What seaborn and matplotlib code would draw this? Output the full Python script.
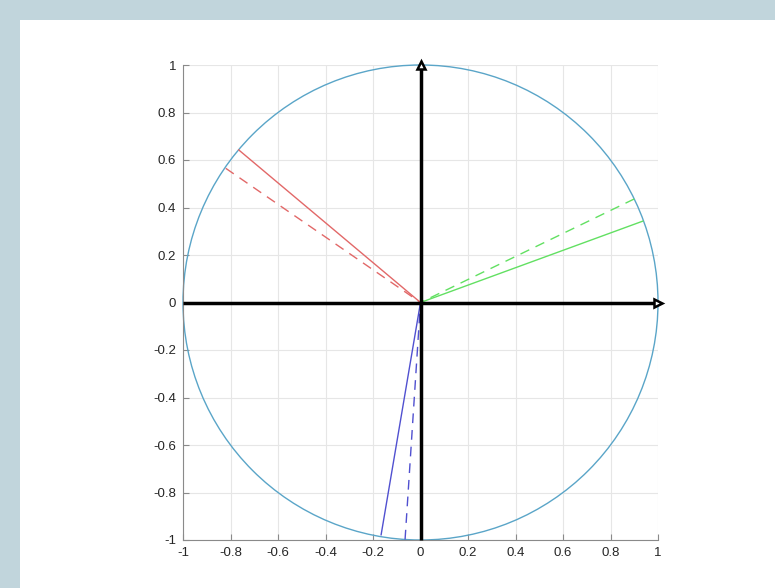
import numpy as np
import pandas as pd
import matplotlib
matplotlib.use("Agg")
import matplotlib.pyplot as plt
from matplotlib.patches import Circle, Rectangle
import seaborn as sns

# ---- data ----
vector_names = ["red_solid", "red_dashed", "green_solid", "green_dashed", "blue_solid", "blue_dashed"]
vector_x = [-0.766, -0.82, 0.937, 0.90, -0.166, -0.065]
vector_y = [0.643, 0.565, 0.343, 0.436, -0.979, -0.998]
vector_colors = ["#e26868", "#e26868", "#62e062", "#62e062", "#5050d0", "#5050d0"]
vector_dashed = [False, True, False, True, False, True]
tick_values = [-1, -0.8, -0.6, -0.4, -0.2, 0, 0.2, 0.4, 0.6, 0.8, 1]
tick_labels = ["-1", "-0.8", "-0.6", "-0.4", "-0.2", "0", "0.2", "0.4", "0.6", "0.8", "1"]

sns.set_theme(style="white")
plt.rcParams['font.family'] = ['Liberation Sans', 'DejaVu Sans']

fig = plt.figure(figsize=(7.75, 5.88), dpi=100)
fig.patch.set_facecolor("#c1d5dc")
fig.patches.append(Rectangle((20 / 775, 0), 1 - 20 / 775, 1 - 20 / 588,
                             transform=fig.transFigure, facecolor="white",
                             edgecolor="none", zorder=-10))

ax = fig.add_axes([183 / 775, 48 / 588, 475 / 775, 475 / 588])
ax.set_zorder(5)
ax.set_facecolor("none")

# grid
ax.set_xlim(-1, 1)
ax.set_ylim(-1, 1)
ax.set_xticks(tick_values)
ax.set_yticks(tick_values)
ax.set_xticklabels(tick_labels)
ax.set_yticklabels(tick_labels)
ax.grid(True, color="#e6e6e6", linewidth=0.8, zorder=0)
ax.set_axisbelow(True)

# unit circle
ax.add_patch(Circle((0, 0), 1, fill=False, edgecolor="#5aa5c8", linewidth=1.0, zorder=2,
                    clip_on=False))

# vectors (drawn from tip to origin so dashes start at the circle)
for name, vx, vy, col, dsh in zip(vector_names, vector_x, vector_y, vector_colors, vector_dashed):
    df = pd.DataFrame({"x": [vx, 0], "y": [vy, 0]})
    sns.lineplot(data=df, x="x", y="y", sort=False, ax=ax, color=col, linewidth=1.0,
                 linestyle=(0, (7, 5)) if dsh else "-", zorder=3, clip_on=False)

# black axis arrows
ax.plot([-1, 1], [0, 0], color="black", linewidth=2.5, zorder=4, clip_on=False,
        solid_capstyle="butt")
ax.plot([0, 0], [-1, 1], color="black", linewidth=2.5, zorder=4, clip_on=False,
        solid_capstyle="butt")
ax.plot([1], [0], marker=">", markersize=6, markerfacecolor="white",
        markeredgecolor="black", markeredgewidth=1.8, zorder=5, clip_on=False)
ax.plot([0], [1], marker="^", markersize=6, markerfacecolor="white",
        markeredgecolor="black", markeredgewidth=1.8, zorder=5, clip_on=False)

ax.set_xlabel("")
ax.set_ylabel("")
for s in ["top", "right"]:
    ax.spines[s].set_visible(False)
for s in ["left", "bottom"]:
    ax.spines[s].set_color("#8a8a8a")
    ax.spines[s].set_linewidth(0.8)
ax.tick_params(axis="both", direction="in", length=4, width=0.8, color="#8a8a8a",
               labelsize=9.5, labelcolor="#262626", pad=5,
               left=True, bottom=True)

fig.savefig("out.png", dpi=100, facecolor=fig.get_facecolor())
